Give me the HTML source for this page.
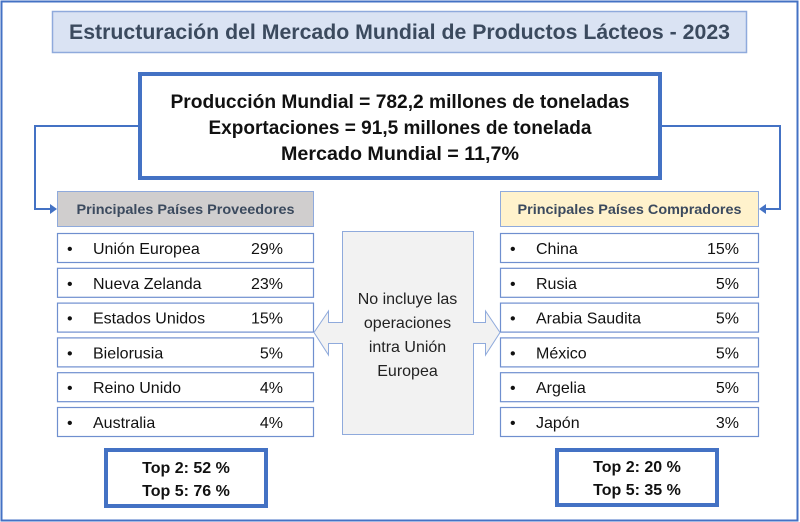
<!DOCTYPE html>
<html><head><meta charset="utf-8"><style>
html,body{margin:0;padding:0;background:#fff}
svg{display:block;font-family:"Liberation Sans",sans-serif}
</style></head><body>
<svg width="800" height="522" viewBox="0 0 800 522">
<rect x="1.5" y="1.5" width="796" height="519" fill="#fff" stroke="#4472c4" stroke-width="2"/>
<g>
<rect x="52.5" y="11.5" width="694" height="41" fill="#dae3f3" stroke="#8faadc" stroke-width="1.5"/>
<text x="399.5" y="39" text-anchor="middle" font-size="21" font-weight="bold" fill="#3b4a5e" textLength="661" lengthAdjust="spacingAndGlyphs">Estructuración del Mercado Mundial de Productos Lácteos - 2023</text>
</g>
<g>
<rect x="140" y="74" width="520" height="104" fill="#fff" stroke="#4472c4" stroke-width="4"/>
<text x="400" y="108" text-anchor="middle" font-size="19" font-weight="bold" fill="#111" textLength="459" lengthAdjust="spacingAndGlyphs">Producción Mundial = 782,2 millones de toneladas</text>
<text x="400" y="134" text-anchor="middle" font-size="19" font-weight="bold" fill="#111" textLength="383" lengthAdjust="spacingAndGlyphs">Exportaciones = 91,5 millones de tonelada</text>
<text x="400" y="160" text-anchor="middle" font-size="19" font-weight="bold" fill="#111" textLength="238" lengthAdjust="spacingAndGlyphs">Mercado Mundial = 11,7%</text>
</g>
<g fill="none" stroke="#4472c4" stroke-width="2">
<polyline points="138,126 35,126 35,209 52,209"/>
<polygon points="57,209 50,204 50,214" fill="#4472c4" stroke="none"/>
</g>
<g fill="none" stroke="#4472c4" stroke-width="2">
<polyline points="662,126 780,126 780,209 765,209"/>
<polygon points="759,209 766,204 766,214" fill="#4472c4" stroke="none"/>
</g>
<g>
<rect x="57.5" y="191.5" width="256" height="35" fill="#d0cece" stroke="#8faadc" stroke-width="1"/>
<text x="185.5" y="214" text-anchor="middle" font-size="14" font-weight="bold" fill="#3b4a5e" textLength="218" lengthAdjust="spacingAndGlyphs">Principales Países Proveedores</text>
</g>
<g>
<rect x="500.5" y="191.5" width="258" height="35" fill="#fff2cc" stroke="#8faadc" stroke-width="1"/>
<text x="629.5" y="214" text-anchor="middle" font-size="14" font-weight="bold" fill="#3b4a5e" textLength="224" lengthAdjust="spacingAndGlyphs">Principales Países Compradores</text>
</g>
<g id="rows"></g>
<g>
<polygon points="342.5,231.5 473.5,231.5 473.5,322.5 485.5,322.5 485.5,311 500,332.5 485.5,355 485.5,343.5 473.5,343.5 473.5,434.5 342.5,434.5 342.5,343.5 328.5,343.5 328.5,355 314,332.5 328.5,311 328.5,322.5 342.5,322.5" fill="#f2f2f2" stroke="#8faadc" stroke-width="1"/>
<text x="407.5" y="304" text-anchor="middle" font-size="16" fill="#222">No incluye las</text>
<text x="407.5" y="328" text-anchor="middle" font-size="16" fill="#222">operaciones</text>
<text x="407.5" y="352" text-anchor="middle" font-size="16" fill="#222">intra Unión</text>
<text x="407.5" y="376" text-anchor="middle" font-size="16" fill="#222">Europea</text>
</g>
<g>
<rect x="106" y="450" width="160" height="56" fill="#fff" stroke="#4472c4" stroke-width="4"/>
<text x="186" y="473" text-anchor="middle" font-size="16" font-weight="bold" fill="#111">Top 2: 52 %</text>
<text x="186" y="496" text-anchor="middle" font-size="16" font-weight="bold" fill="#111">Top 5: 76 %</text>
</g>
<g>
<rect x="557" y="450" width="160" height="55" fill="#fff" stroke="#4472c4" stroke-width="4"/>
<text x="637" y="472" text-anchor="middle" font-size="16" font-weight="bold" fill="#111">Top 2: 20 %</text>
<text x="637" y="495" text-anchor="middle" font-size="16" font-weight="bold" fill="#111">Top 5: 35 %</text>
</g>
</svg>
<script>
const supplierNames = ["Unión Europea","Nueva Zelanda","Estados Unidos","Bielorusia","Reino Unido","Australia"];
const supplierShares = [29,23,15,5,4,4];
const buyerNames = ["China","Rusia","Arabia Saudita","México","Argelia","Japón"];
const buyerShares = [15,5,5,5,5,3];
const NS = "http://www.w3.org/2000/svg";
const g = document.getElementById('rows');
function addRows(names, vals, x0, w, pctRight, side){
  names.forEach((n,i)=>{
    const y = 233 + i*34.8;
    const grp = document.createElementNS(NS,'g');
    
    
    const r = document.createElementNS(NS,'rect');
    r.setAttribute('x', x0+0.5); r.setAttribute('y', y+0.5);
    r.setAttribute('width', w); r.setAttribute('height', 29);
    r.setAttribute('fill','#fff'); r.setAttribute('stroke','#6f8fcf'); r.setAttribute('stroke-width','1.2');
    grp.appendChild(r);
    const b = document.createElementNS(NS,'text');
    b.setAttribute('x', x0+10); b.setAttribute('y', y+21); b.setAttribute('font-size','16'); b.setAttribute('fill','#111');
    b.textContent = '•'; grp.appendChild(b);
    const t = document.createElementNS(NS,'text');
    t.setAttribute('x', x0+36); t.setAttribute('y', y+21); t.setAttribute('font-size','16'); t.setAttribute('fill','#111');
    t.textContent = n; grp.appendChild(t);
    const p = document.createElementNS(NS,'text');
    p.setAttribute('x', pctRight); p.setAttribute('y', y+21); p.setAttribute('font-size','16'); p.setAttribute('fill','#111');
    p.setAttribute('text-anchor','end');
    p.textContent = vals[i] + '%'; grp.appendChild(p);
    g.appendChild(grp);
  });
}
addRows(supplierNames, supplierShares, 57, 256, 283, 'supplier');
addRows(buyerNames, buyerShares, 500, 258, 739, 'buyer');
</script>
</body></html>
